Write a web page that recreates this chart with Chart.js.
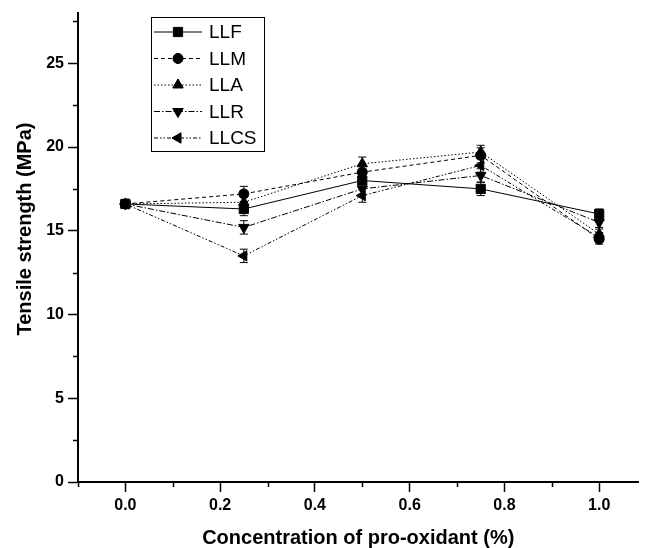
<!DOCTYPE html>
<html>
<head>
<meta charset="utf-8">
<script src="https://cdn.jsdelivr.net/npm/chart.js@4.4.0/dist/chart.umd.min.js"></script>
<style>
    html, body { margin: 0; padding: 0; background: #fff; overflow: hidden; }
    canvas { display: block; }
</style>
</head>
<body>
<canvas id="tensileChart" width="646" height="548"></canvas>
<script>
// Data //
var concentration = [0, 0.25, 0.5, 0.75, 1.0];
var llf  = [16.6, 16.3, 18.0, 17.5, 16.0];
var llm  = [16.6, 17.2, 18.5, 19.5, 14.5];
var lla  = [16.6, 16.7, 19.0, 19.7, 14.8];
var llr  = [16.6, 15.2, 17.5, 18.3, 15.5];
var llcs = [16.6, 13.5, 17.1, 18.9, 14.6];
var llfErr  = [0.2, 0.4, 0.4, 0.4, 0.3];
var llmErr  = [0.2, 0.45, 0.4, 0.45, 0.3];
var llaErr  = [0.2, 0.3, 0.4, 0.4, 0.3];
var llrErr  = [0.2, 0.4, 0.4, 0.4, 0.3];
var llcsErr = [0.2, 0.4, 0.4, 0.4, 0.3];
var xTicks = [0, 0.2, 0.4, 0.6, 0.8, 1.0];
var xMinor = [-0.1, 0.1, 0.3, 0.5, 0.7, 0.9];
var yTicks = [0, 5, 10, 15, 20, 25];
var yMinor = [2.5, 7.5, 12.5, 17.5, 22.5, 27.5];
var yTitle = 'Tensile strength (MPa)';

var fontFamily = "Arial, 'Liberation Sans', sans-serif";

function toPoints(ys) {
    return concentration.map(function (x, i) { return { x: x, y: ys[i] }; });
}

function series(label, ys, errs, dash, style, radius, rotation) {
    return {
        label: label,
        data: toPoints(ys),
        errors: errs,
        showLine: true,
        borderColor: '#000',
        backgroundColor: '#000',
        borderWidth: 1,
        borderDash: dash,
        pointStyle: style,
        pointRadius: radius,
        pointHoverRadius: radius,
        rotation: rotation,
        pointBorderWidth: 1,
    };
}

// Error bars + minor ticks + legend + y title //
var extras = {
    id: 'extras',
    afterDatasetsDraw: function (chart) {
        var ctx = chart.ctx;
        var xs = chart.scales.x, ys = chart.scales.y;
        ctx.save();
        ctx.strokeStyle = '#000';
        ctx.lineWidth = 1;
        ctx.setLineDash([]);
        chart.data.datasets.forEach(function (ds) {
            ds.data.forEach(function (p, i) {
                var px = xs.getPixelForValue(p.x);
                var top = ys.getPixelForValue(p.y + ds.errors[i]);
                var bot = ys.getPixelForValue(p.y - ds.errors[i]);
                ctx.beginPath();
                ctx.moveTo(px, top); ctx.lineTo(px, bot);
                ctx.moveTo(px - 4, top); ctx.lineTo(px + 4, top);
                ctx.moveTo(px - 4, bot); ctx.lineTo(px + 4, bot);
                ctx.stroke();
            });
        });
        ctx.restore();
    },
    afterDraw: function (chart) {
        var ctx = chart.ctx;
        var xs = chart.scales.x, ys = chart.scales.y;
        var area = chart.chartArea;
        ctx.save();
        ctx.strokeStyle = '#000';
        ctx.lineWidth = 1.5;
        ctx.beginPath();
        xMinor.forEach(function (v) {
            var px = Math.round(xs.getPixelForValue(v)) + 0.5;
            ctx.moveTo(px, area.bottom); ctx.lineTo(px, area.bottom + 5);
        });
        yMinor.forEach(function (v) {
            var py = Math.round(ys.getPixelForValue(v)) + 0.5;
            ctx.moveTo(area.left, py); ctx.lineTo(area.left - 5, py);
        });
        ctx.stroke();

        // y title, sitting a little above the axis middle
        ctx.save();
        ctx.fillStyle = '#000';
        ctx.font = 'bold 20px ' + fontFamily;
        ctx.textAlign = 'center';
        ctx.textBaseline = 'middle';
        ctx.translate(25, 229);
        ctx.rotate(-Math.PI / 2);
        ctx.fillText(yTitle, 0, 0);
        ctx.restore();

        // legend box
        var bx = 151, by = 17, bw = 113, bh = 134;
        ctx.lineWidth = 1;
        ctx.fillStyle = '#fff';
        ctx.fillRect(bx, by, bw, bh);
        ctx.strokeRect(bx + 0.5, by + 0.5, bw, bh);
        ctx.font = '19px ' + fontFamily;
        ctx.textBaseline = 'middle';
        chart.data.datasets.forEach(function (ds, i) {
            var ly = by + 15 + i * 26.5;
            ctx.save();
            ctx.setLineDash(ds.borderDash);
            ctx.beginPath();
            ctx.moveTo(bx + 3, ly); ctx.lineTo(bx + 51, ly);
            ctx.stroke();
            ctx.restore();
            Chart.helpers.drawPoint(ctx, {
                pointStyle: ds.pointStyle,
                rotation: ds.rotation,
                radius: ds.pointRadius,
                borderWidth: 1,
            }, bx + 27, ly);
            ctx.fillStyle = '#000';
            ctx.fill();
            ctx.fillText(ds.label, bx + 58, ly + 1);
        });
        ctx.restore();
    }
};

var ctx = document.getElementById('tensileChart').getContext('2d');
var tensileChart = new Chart(ctx, {
    type: 'scatter',
    data: {
        datasets: [
            series('LLF',  llf,  llfErr,  [],                 'rect',     6.5, 0),
            series('LLM',  llm,  llmErr,  [4, 3],             'circle',   5,   0),
            series('LLA',  lla,  llaErr,  [1.5, 2],           'triangle', 6,   0),
            series('LLR',  llr,  llrErr,  [6, 2, 1.5, 2],     'triangle', 6,   180),
            series('LLCS', llcs, llcsErr, [4, 2, 1.5, 2, 1.5, 2], 'triangle', 6, 270),
        ],
    },
    options: {
        responsive: false,
        animation: false,
        layout: {
            // chart.js keeps ~5px on the right, pull the axis out to the edge
            padding: { left: 0, right: -5, top: 13, bottom: 0 }
        },
        scales: {
            x: {
                type: 'linear',
                min: -0.1,
                max: 1.083,
                afterBuildTicks: function (axis) {
                    axis.ticks = xTicks.map(function (v) { return { value: v }; });
                },
                afterFit: function (axis) {
                    axis.height = 66;
                    axis.paddingLeft = 0;
                    axis.paddingRight = 0;
                },
                grid: {
                    drawOnChartArea: false,
                    drawTicks: true,
                    tickLength: 10,
                    tickWidth: 1.5,
                    tickColor: '#000',
                },
                border: { display: true, color: '#000', width: 2 },
                ticks: {
                    color: '#000',
                    padding: 4,
                    maxRotation: 0,
                    font: { family: fontFamily, size: 16, weight: 'bold' },
                    callback: function (v) { return Number(v).toFixed(1); },
                },
                title: {
                    display: true,
                    text: 'Concentration of pro-oxidant (%)',
                    color: '#000',
                    padding: { top: 0, bottom: 0 },
                    font: { family: fontFamily, size: 20, weight: 'bold', lineHeight: 1 },
                },
            },
            y: {
                type: 'linear',
                min: 0,
                max: 28,
                afterBuildTicks: function (axis) {
                    axis.ticks = yTicks.map(function (v) { return { value: v }; });
                },
                afterFit: function (axis) {
                    axis.width = 78;
                    axis.paddingTop = 0;
                    axis.paddingBottom = 0;
                },
                grid: {
                    drawOnChartArea: false,
                    drawTicks: true,
                    tickLength: 10,
                    tickWidth: 1.5,
                    tickColor: '#000',
                },
                border: { display: true, color: '#000', width: 2 },
                ticks: {
                    color: '#000',
                    padding: 4,
                    font: { family: fontFamily, size: 16, weight: 'bold' },
                },
                title: { display: false },
            },
        },
        plugins: {
            legend: { display: false },
            tooltip: { enabled: false },
        }
    },
    plugins: [extras]
});
</script>
</body>
</html>
